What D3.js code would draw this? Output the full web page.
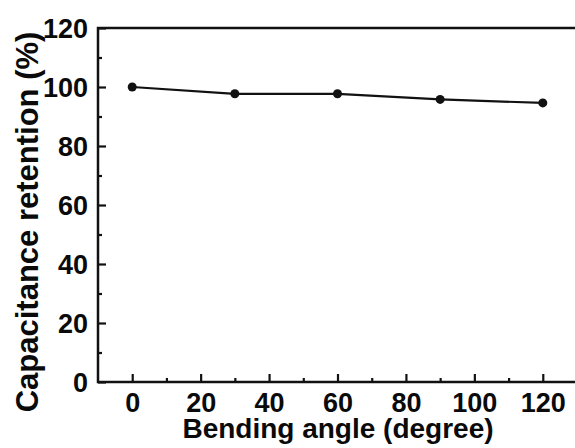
<!DOCTYPE html>
<html>
<head>
<meta charset="utf-8">
<script src="https://cdn.jsdelivr.net/npm/d3@7"></script>
<style>
  html, body { margin: 0; padding: 0; background: #fff; }
  svg { display: block; }
  text { font-family: "Liberation Sans", Arial, Helvetica, sans-serif; font-weight: bold; fill: #0a0a0a; }
</style>
</head>
<body>
<svg id="chart" width="575" height="448"></svg>
<script>
const angles = [0, 30, 60, 90, 120];
const retention = [100, 97.7, 97.7, 95.8, 94.6];
const xTicks = [0, 20, 40, 60, 80, 100, 120];
const yTicks = [0, 20, 40, 60, 80, 100, 120];
const xTitle = "Bending angle (degree)";
const yTitle = "Capacitance retention (%)";

const svg = d3.select("#chart");
const mLeft = 98, mRight = 577, mTop = 28, mBottom = 382;

const x = d3.scaleLinear().domain([-10, 130]).range([mLeft, mRight]);
const y = d3.scaleLinear().domain([0, 120]).range([mBottom, mTop]);

const ink = "#111";

const xMinor = d3.range(0, 130, 10).filter(v => !xTicks.includes(v));
const yMinor = d3.range(10, 120, 10).filter(v => !yTicks.includes(v));

const g = svg.append("g");

const xAxis = d3.axisBottom(x).tickValues(xTicks).tickSize(-8).tickFormat(d3.format("d")).tickPadding(0);
const gx = g.append("g").attr("transform", `translate(0,${mBottom})`).call(xAxis);
gx.select(".domain").remove();
gx.selectAll(".tick line").attr("stroke", ink).attr("stroke-width", 2.2);
gx.selectAll(".tick text").attr("y", 30).attr("dy", 0).style("font-size", "27px").attr("fill", "#0a0a0a");

const gxm = g.append("g").attr("transform", `translate(0,${mBottom})`)
  .call(d3.axisBottom(x).tickValues(xMinor).tickSize(-4).tickFormat(""));
gxm.select(".domain").remove();
gxm.selectAll(".tick line").attr("stroke", ink).attr("stroke-width", 2.2);

const yAxis = d3.axisLeft(y).tickValues(yTicks).tickSize(-8).tickFormat(d3.format("d")).tickPadding(0);
const gy = g.append("g").attr("transform", `translate(${mLeft},0)`).call(yAxis);
gy.select(".domain").remove();
gy.selectAll(".tick line").attr("stroke", ink).attr("stroke-width", 2.2);
gy.selectAll(".tick text").attr("x", -10).attr("dy", "0.36em").style("font-size", "27px").attr("fill", "#0a0a0a");

const gym = g.append("g").attr("transform", `translate(${mLeft},0)`)
  .call(d3.axisLeft(y).tickValues(yMinor).tickSize(-4).tickFormat(""));
gym.select(".domain").remove();
gym.selectAll(".tick line").attr("stroke", ink).attr("stroke-width", 2.2);

g.append("rect").attr("x", mLeft).attr("y", mTop).attr("width", mRight - mLeft).attr("height", mBottom - mTop)
  .attr("fill", "none").attr("stroke", ink).attr("stroke-width", 2.5);

const pts = angles.map((a, i) => [a, retention[i]]);
g.append("path").datum(pts)
  .attr("fill", "none").attr("stroke", ink).attr("stroke-width", 2.2)
  .attr("d", d3.line().x(d => x(d[0])).y(d => y(d[1])));
g.selectAll("circle.pt").data(pts).join("circle").attr("class", "pt")
  .attr("cx", d => x(d[0])).attr("cy", d => y(d[1])).attr("r", 4.5).attr("fill", ink);

svg.append("text").attr("x", 338).attr("y", 438).attr("text-anchor", "middle")
  .style("font-size", "28px").text(xTitle);
svg.append("text").attr("transform", `translate(38,222) rotate(-90)`).attr("text-anchor", "middle")
  .style("font-size", "31px").text(yTitle);
</script>
</body>
</html>
